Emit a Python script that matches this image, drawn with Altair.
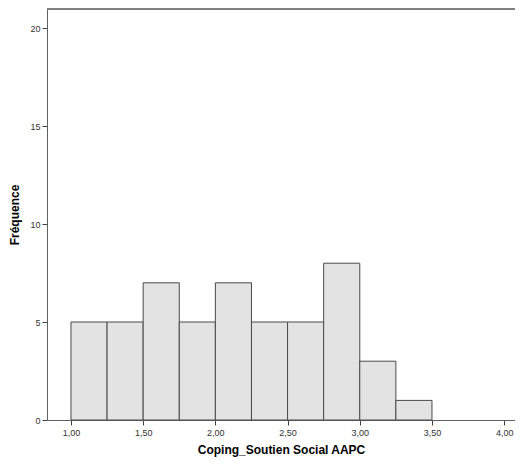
import altair as alt
import pandas as pd

bin_start = [1.00, 1.25, 1.50, 1.75, 2.00, 2.25, 2.50, 2.75, 3.00, 3.25]
bin_end = [1.25, 1.50, 1.75, 2.00, 2.25, 2.50, 2.75, 3.00, 3.25, 3.50]
counts = [5, 5, 7, 5, 7, 5, 5, 8, 3, 1]
x_ticks = [1.0, 1.5, 2.0, 2.5, 3.0, 3.5, 4.0]
y_ticks = [0, 5, 10, 15, 20]

df = pd.DataFrame({"start": bin_start, "end": bin_end, "count": counts})

X_DOM = [0.834, 4.075]
Y_DOM = [0, 20.97]
FONT = "Liberation Sans"

xs = alt.Scale(domain=X_DOM, nice=False, zero=False)
ys = alt.Scale(domain=Y_DOM, nice=False)

bars = alt.Chart(df).mark_rect(
    fill="#e3e3e3", stroke="#4a4a4a", strokeWidth=1
).encode(
    x=alt.X("start:Q", scale=xs, axis=alt.Axis(
        values=x_ticks, title="Coping_Soutien Social AAPC",
        labelExpr="replace(format(datum.value, '.2f'), '.', ',')",
        grid=False, domainColor="#606060", tickColor="#404040",
        tickSize=5, labelFontSize=9, labelColor="#333333", labelFont=FONT,
        titleFont=FONT, titleFontSize=12, titleFontWeight="bold",
        titleColor="#000000", titlePadding=7, labelPadding=3)),
    x2="end:Q",
    y=alt.Y("count:Q", scale=ys, axis=alt.Axis(
        values=y_ticks, title="Fréquence", grid=False,
        domainColor="#606060", tickColor="#404040", tickSize=5,
        labelFontSize=9, labelColor="#333333", labelFont=FONT,
        titleFont=FONT, titleFontSize=12, titleFontWeight="bold",
        titleColor="#000000", titlePadding=8, labelPadding=2)),
    y2=alt.datum(0),
)

top_line = alt.Chart(pd.DataFrame({"y": [Y_DOM[1]]})).mark_rule(
    color="#808080", strokeWidth=2
).encode(y=alt.Y("y:Q", scale=ys))

chart = alt.layer(bars, top_line).properties(
    width=468, height=411,
    autosize=alt.AutoSizeParams(type="none"),
    padding={"left": 39, "top": 1, "right": 0, "bottom": 38},
).configure_view(stroke=None)

chart.save("out.html", embed_options={"renderer": "svg", "actions": False})
